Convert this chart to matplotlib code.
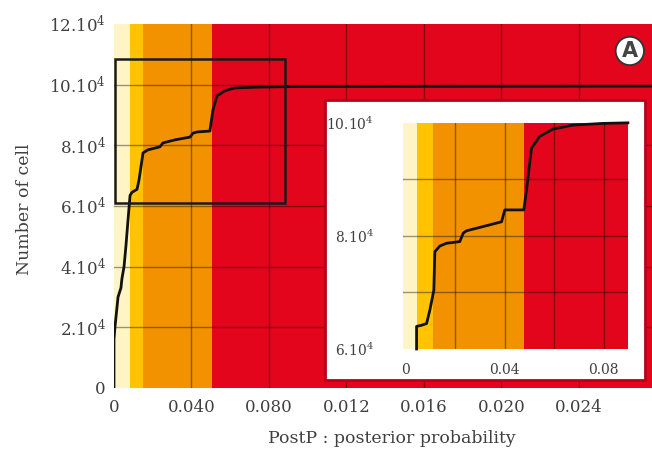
import numpy as np
import matplotlib
matplotlib.use("Agg")
import matplotlib.pyplot as plt
from matplotlib.patches import Rectangle

plt.rcParams['font.family'] = ['DejaVu Serif']
plt.rcParams['mathtext.default'] = 'regular'

# main curve: cumulative number of cells vs posterior probability
post_p = [0.0, 0.0, 0.00005, 0.00021, 0.00036, 0.00041, 0.00052, 0.00062,
          0.00072, 0.00083, 0.00093, 0.00119, 0.00129, 0.00150, 0.00175,
          0.00237, 0.00253, 0.00315, 0.00392, 0.00408, 0.00428, 0.00495,
          0.00511, 0.00532, 0.00573, 0.00624, 0.00754, 0.0096, 0.028]
n_cells = [0, 1.6e4, 2.0e4, 3.0e4, 3.3e4, 3.6e4, 4.0e4, 4.7e4, 5.5e4, 6.35e4,
           6.45e4, 6.55e4, 6.85e4, 7.75e4, 7.85e4, 7.95e4, 8.08e4, 8.18e4,
           8.27e4, 8.40e4, 8.44e4, 8.47e4, 9.17e4, 9.63e4, 9.80e4, 9.89e4,
           9.92e4, 9.94e4, 9.95e4]

# zoomed curve shown in the inset
zoom_p = [0.00432, 0.00432, 0.00634, 0.00836, 0.0097, 0.0113, 0.0117, 0.0137,
          0.0164, 0.0218, 0.0232, 0.0245, 0.0387, 0.0400, 0.0477, 0.0488,
          0.0508, 0.0541, 0.0595, 0.0676, 0.0797, 0.0898]
zoom_n = [6.0e4, 6.4e4, 6.42e4, 6.45e4, 6.69e4, 7.04e4, 7.72e4, 7.82e4,
          7.87e4, 7.90e4, 8.05e4, 8.09e4, 8.25e4, 8.46e4, 8.46e4, 8.81e4,
          9.55e4, 9.76e4, 9.89e4, 9.96e4, 9.99e4, 10.0e4]

# colour bands (upper limits of each class)
band_colors = ['#fff5c4', '#ffc300', '#f39200', '#e3051b']
main_bands = [0.00083, 0.0015, 0.00506, 0.028]
zoom_bands = [0.0044, 0.0109, 0.0477, 0.0898]

main_xticks = [0, 0.004, 0.008, 0.012, 0.016, 0.020, 0.024]
main_xlabels = ['0', '0.040', '0.080', '0.012', '0.016', '0.020', '0.024']
main_yticks = [0, 2e4, 4e4, 6e4, 8e4, 10e4, 12e4]
main_ylabels = ['0', '2.10$^4$', '4.10$^4$', '6.10$^4$', '8.10$^4$',
                '10.10$^4$', '12.10$^4$']
zoom_xticks = [0, 0.04, 0.08]
zoom_xlabels = ['0', '0.04', '0.08']
zoom_yticks = [6e4, 8e4, 10e4]
zoom_ylabels = ['6.10$^4$', '8.10$^4$', '10.10$^4$']

txt = '#404040'
grid_col = (0, 0, 0, 0.4)


def draw_bands(ax, limits, x0):
    left = x0
    for lim, col in zip(limits, band_colors):
        ax.axvspan(left, lim, color=col, lw=0, zorder=0)
        left = lim


fig = plt.figure(figsize=(6.52, 4.55), dpi=100)
ax = fig.add_axes([0.1748, 0.1473, 0.8252, 0.80])
ax.set_xlim(0, 0.02777)
ax.set_ylim(0, 12e4)
draw_bands(ax, main_bands, 0)
for x in main_xticks[1:]:
    ax.axvline(x, color=grid_col, lw=1, zorder=1)
for y in main_yticks[1:-1]:
    ax.axhline(y, color=grid_col, lw=1, zorder=1)
ax.plot(post_p, n_cells, color='#111111', lw=2, zorder=3)
ax.add_patch(Rectangle((0.00005, 6.1e4), 0.00878, 4.75e4, fill=False,
                       ec='#1a1a1a', lw=1.8, zorder=3))
ax.set_xticks(main_xticks, main_xlabels)
ax.set_yticks(main_yticks, main_ylabels)
ax.tick_params(length=0, labelsize=12, colors=txt)
ax.tick_params(axis='y', pad=6)
ax.tick_params(axis='x', pad=8)
for s in ax.spines.values():
    s.set_visible(False)
ax.set_xlabel('PostP : posterior probability', fontsize=12.5, color=txt)
ax.set_ylabel('Number of cell', fontsize=12.5, color=txt)
ax.xaxis.set_label_coords(0.517, -0.115)
ax.yaxis.set_label_coords(-0.15, 0.49)

# white frame behind the inset
fig.patches.append(Rectangle((0.4985, 0.1648), 0.4905, 0.6152,
                             transform=fig.transFigure, fc='white',
                             ec='#b8001a', lw=2, zorder=5))

ins = fig.add_axes([0.618, 0.233, 0.345, 0.497])
ins.set_zorder(6)
ins.set_xlim(-0.0012, 0.0898)
ins.set_ylim(6e4, 10e4)
draw_bands(ins, zoom_bands, -0.0012)
for x in [0.02, 0.04, 0.06, 0.08]:
    ins.axvline(x, color=grid_col, lw=1, zorder=1)
for y in [7e4, 8e4, 9e4]:
    ins.axhline(y, color=grid_col, lw=1, zorder=1)
ins.plot(zoom_p, zoom_n, color='#111111', lw=2, zorder=3, clip_on=False)
ins.set_xticks(zoom_xticks, zoom_xlabels)
ins.set_yticks(zoom_yticks, zoom_ylabels)
ins.tick_params(length=0, labelsize=10, colors=txt)
ins.tick_params(axis='y', pad=21)
ins.tick_params(axis='x', pad=10)
for s in ins.spines.values():
    s.set_visible(False)

fig.text(0.966, 0.888, 'A', ha='center', va='center', fontsize=15,
         color='#444444', fontweight='bold', family='DejaVu Sans',
         bbox=dict(boxstyle='circle,pad=0.2', fc='white', ec='#333333',
                   lw=1.3))

fig.savefig('out.png', dpi=100)
